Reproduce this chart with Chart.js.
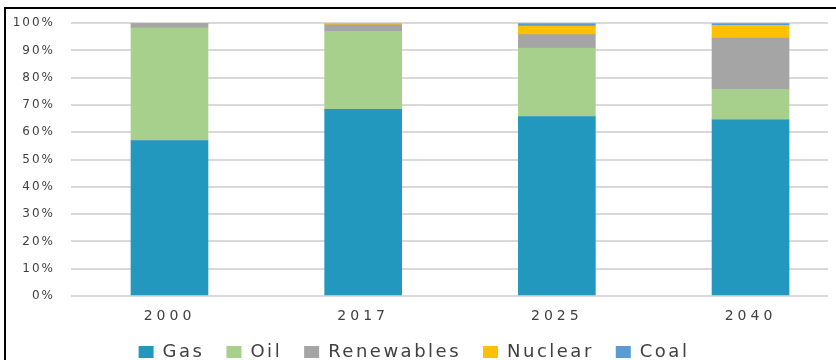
<!DOCTYPE html>
<html><head><meta charset="utf-8">
<script src="https://cdn.jsdelivr.net/npm/chart.js@4/dist/chart.umd.min.js"></script>
<style>
html,body{margin:0;padding:0;background:#fff;overflow:hidden;}
#wrap{position:relative;width:836px;height:360px;overflow:hidden;background:#fff;}
#c{position:absolute;left:0;top:0;}
#frame{position:absolute;left:4px;top:7px;width:900px;height:500px;border:2px solid #000;box-sizing:border-box;pointer-events:none;}
</style></head><body>
<div id="wrap"><canvas id="c" width="836" height="371"></canvas><div id="frame"></div></div>
<script>
const years = ['2000', '2017', '2025', '2040'];
const gas = [57.0, 68.4, 65.8, 64.6];
const oil = [41.3, 28.6, 25.1, 11.2];
const renewables = [1.7, 2.4, 4.9, 18.7];
const nuclear = [0, 0.6, 3.1, 4.7];
const coal = [0, 0, 1.1, 0.8];
const seriesNames = ['Gas', 'Oil', 'Renewables', 'Nuclear', 'Coal'];
const seriesValues = [gas, oil, renewables, nuclear, coal];
const seriesColors = ['#2398BE', '#A6D08C', '#A5A5A5', '#FFC000', '#5B9BD5'];

function wrapSpacing(obj, method, sp) {
  if (!obj || obj['_ws_' + method]) return;
  const orig = obj[method];
  obj[method] = function (...args) {
    const ctx = this.ctx;
    const prev = ctx.letterSpacing;
    ctx.letterSpacing = sp;
    try { return orig.apply(this, args); } finally { ctx.letterSpacing = prev; }
  };
  obj['_ws_' + method] = true;
}
const spacingPlugin = {
  id: 'spacing',
  beforeLayout(chart) {
    wrapSpacing(chart.legend, 'fit', '2.5px');
    wrapSpacing(chart.legend, 'draw', '2.5px');
    wrapSpacing(chart.scales.y, 'draw', '2px');
    wrapSpacing(chart.scales.y, 'fit', '2px');
    wrapSpacing(chart.scales.x, 'draw', '4px');
    wrapSpacing(chart.scales.x, 'fit', '4px');
  }
};

const datasets = seriesNames.map((name, k) => ({
  label: name,
  data: seriesValues[k].map((v, i) => ({ x: i, y: v })),
  backgroundColor: seriesColors[k],
  borderWidth: 0,
  barThickness: 77
}));

new Chart(document.getElementById('c'), {
  type: 'bar',
  data: { datasets },
  plugins: [spacingPlugin],
  options: {
    responsive: false,
    animation: false,
    layout: { padding: { top: 18, right: 8, bottom: 0, left: 0 } },
    plugins: {
      tooltip: { enabled: false },
      legend: {
        position: 'bottom',
        labels: {
          boxWidth: 15, boxHeight: 12, padding: 22,
          color: '#404040',
          font: { family: 'DejaVu Sans', size: 18 }
        }
      }
    },
    scales: {
      x: {
        type: 'linear', min: -0.5085, max: 3.40, offset: false, stacked: true,
        grid: { display: false }, border: { display: false },
        afterBuildTicks: s => { s.ticks = years.map((_, i) => ({ value: i })); },
        ticks: {
          callback: v => years[v], autoSkip: false, maxRotation: 0, padding: 4,
          color: '#404040', font: { family: 'DejaVu Sans', size: 14 }
        },
        afterFit: s => { s.height = 25; }
      },
      y: {
        stacked: true, min: 0, max: 100,
        grid: { color: '#D9D9D9', lineWidth: 2, drawTicks: false },
        border: { display: false },
        ticks: {
          stepSize: 10, padding: 16, callback: v => v + '%',
          color: '#404040', font: { family: 'DejaVu Sans', size: 12 }
        },
        afterFit: s => { s.width = 71; }
      }
    }
  }
});
</script>
</body></html>
